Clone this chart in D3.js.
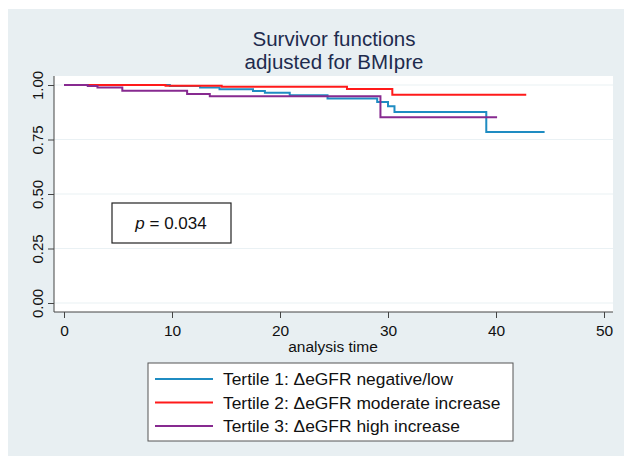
<!DOCTYPE html>
<html>
  <head>
    <meta charset="utf-8">
    <script src="https://d3js.org/d3.v7.min.js"></script>
    <style>
      body { margin: 0; background: #fff; }
      text { font-family: Arial, "Liberation Sans", sans-serif; }
    </style>
  </head>
  <body>
    <svg width="624" height="456"></svg>
    <script>
      // step points [time, survival]
      var tertile1 = [[0, 1], [9.8, 0.995], [12.6, 0.989], [14.4, 0.981], [17.5, 0.973], [18.6, 0.964],
                      [20.9, 0.953], [24.4, 0.938], [29.0, 0.922], [30.0, 0.902], [30.6, 0.876],
                      [39.1, 0.784], [44.5, 0.784]];
      var tertile2 = [[0, 1], [9.4, 0.997], [14.6, 0.992], [26.2, 0.982], [30.4, 0.955], [42.8, 0.955]];
      var tertile3 = [[0, 1], [2.2, 0.995], [3.1, 0.989], [5.4, 0.974], [11.4, 0.959], [13.5, 0.948],
                      [29.3, 0.852], [40.1, 0.852]];
      var seriesNames = ["Tertile 1: \u0394eGFR negative/low", "Tertile 2: \u0394eGFR moderate increase", "Tertile 3: \u0394eGFR high increase"];
      var seriesColors = ["#1f8cc2", "#ff1a1a", "#872a90"];
      var xTicks = [0, 10, 20, 30, 40, 50];
      var yTicks = [0, 0.25, 0.5, 0.75, 1];
      var pText = "0.034";

      var svg = d3.select("svg");

      svg.append("rect").attr("x", 8).attr("y", 9).attr("width", 616).attr("height", 447)
          .attr("fill", "#e8eff2");

      // plot region
      svg.append("rect").attr("x", 54).attr("y", 76).attr("width", 559).attr("height", 236)
          .attr("fill", "#fff");

      var x = d3.scaleLinear().domain([0, 50]).range([64, 604]);
      var y = d3.scaleLinear().domain([0, 1]).range([303, 85]);

      // grid
      svg.append("g").selectAll("line").data(yTicks).enter().append("line")
          .attr("x1", 54).attr("x2", 613)
          .attr("y1", function(d) { return y(d); }).attr("y2", function(d) { return y(d); })
          .attr("stroke", "#eaf1f4").attr("stroke-width", 1.2);

      var yAxis = svg.append("g").attr("transform", "translate(54,0)")
          .call(d3.axisLeft(y).tickValues(yTicks).tickFormat(d3.format(".2f")).tickSizeOuter(0).tickSize(6));
      yAxis.select(".domain").attr("d", "M0,76V312").attr("stroke", "#444");
      yAxis.selectAll(".tick line").attr("stroke", "#444");
      yAxis.selectAll(".tick text")
          .attr("font-size", 15).attr("fill", "#111")
          .attr("transform", "rotate(-90)")
          .attr("x", 0).attr("y", -11).attr("dy", 0)
          .style("text-anchor", "middle");

      var xAxis = svg.append("g").attr("transform", "translate(0,312)")
          .call(d3.axisBottom(x).tickValues(xTicks).tickSizeOuter(0).tickSize(6));
      xAxis.select(".domain").attr("d", "M54,0H613").attr("stroke", "#444");
      xAxis.selectAll(".tick line").attr("stroke", "#444");
      xAxis.selectAll(".tick text").attr("font-size", 15.5).attr("fill", "#111")
          .attr("y", 24).attr("dy", 0);

      svg.append("text").attr("x", 333).attr("y", 352).attr("text-anchor", "middle")
          .attr("font-size", 15.5).attr("fill", "#111").text("analysis time");

      // curves
      var line = d3.line().curve(d3.curveStepAfter)
          .x(function(d) { return x(d[0]); }).y(function(d) { return y(d[1]); });
      [tertile1, tertile2, tertile3].forEach(function(s, i) {
        svg.append("path").datum(s).attr("d", line)
            .attr("fill", "none").attr("stroke", seriesColors[i]).attr("stroke-width", 2);
      });

      // title
      svg.append("text").attr("x", 334).attr("y", 46).attr("text-anchor", "middle")
          .attr("font-size", 20.5).attr("fill", "#1e2b4e").text("Survivor functions");
      svg.append("text").attr("x", 334).attr("y", 69).attr("text-anchor", "middle")
          .attr("font-size", 20.5).attr("fill", "#1e2b4e").text("adjusted for BMIpre");

      // p box
      svg.append("rect").attr("x", 112).attr("y", 203).attr("width", 119).attr("height", 40)
          .attr("fill", "#fff").attr("stroke", "#222").attr("stroke-width", 1.2);
      var pt = svg.append("text").attr("x", 171).attr("y", 229).attr("text-anchor", "middle")
          .attr("font-size", 17).attr("fill", "#111");
      pt.append("tspan").attr("font-style", "italic").text("p");
      pt.append("tspan").text(" = " + pText);

      // legend
      svg.append("rect").attr("x", 148).attr("y", 363).attr("width", 365).attr("height", 78)
          .attr("fill", "#fff").attr("stroke", "#555").attr("stroke-width", 1);
      var lg = svg.append("g").selectAll("g").data(seriesNames).enter().append("g")
          .attr("transform", function(d, i) { return "translate(0," + (379 + i * 23.5) + ")"; });
      lg.append("line").attr("x1", 155).attr("x2", 213)
          .attr("stroke", function(d, i) { return seriesColors[i]; }).attr("stroke-width", 2);
      lg.append("text").attr("x", 223).attr("y", 6).attr("font-size", 17.4).attr("fill", "#111")
          .text(function(d) { return d; });
    </script>
  </body>
</html>
